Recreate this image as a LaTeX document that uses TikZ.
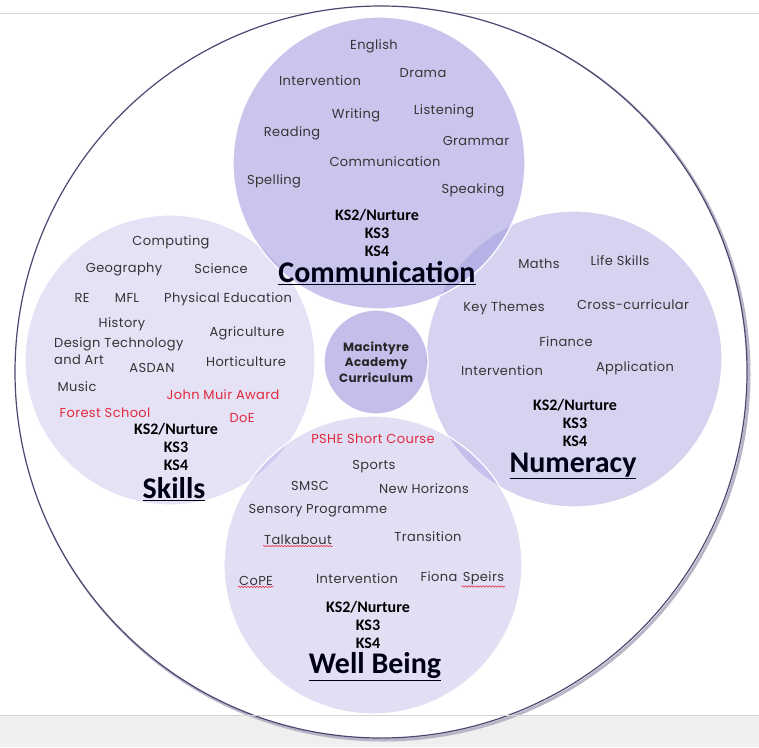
\documentclass[tikz,border=0pt]{standalone}
\usepackage{fontspec}
\setmainfont[LetterSpace=3]{Poppins}
\newfontfamily\ksfont{Carlito}
\usepackage{tikz}
\usetikzlibrary{positioning, decorations.pathmorphing}

\definecolor{ink}{HTML}{353535}
\definecolor{redtxt}{HTML}{E3283C}
\definecolor{lav}{HTML}{9F97DE}
\definecolor{rim}{HTML}{4A4870}
\definecolor{band}{HTML}{EFEFEF}
\definecolor{bandline}{HTML}{D4D4D4}

\tikzset{
    area/.style={circle, inner sep=0pt, fill=lav, draw=white, line width=1.2pt},
    item/.style={font=\fontsize{13}{15}\selectfont, text=ink, inner sep=1pt},
    reditem/.style={item, text=redtxt},
    stages/.style={font=\ksfont\bfseries\fontsize{16}{18}\selectfont, align=center, text=black, inner sep=0pt},
    heading/.style={font=\ksfont\bfseries\fontsize{30}{32}\selectfont, text=black!92!blue, inner sep=0pt},
    squiggle/.style={draw=redtxt, line width=0.5pt, decorate, decoration={snake, amplitude=0.7pt, segment length=3pt}}
}

\begin{document}
\begin{tikzpicture}[x=1pt, y=-1pt]
\useasboundingbox (0,0) rectangle (759,747);

% page furniture
\fill[band] (0,715) rectangle (759,747);
\draw[bandline, line width=1pt] (0,13) -- (759,13);

% outer ring
\draw[rim!40, line width=3pt] (383,374) circle[radius=366];
\filldraw[fill=white, draw=rim, line width=1.2pt] (381,372) circle[radius=366];
\draw[bandline, line width=1pt] (0,715) -- (759,715);

% the four areas and the centre
\node[area, fill opacity=0.27, minimum size=290pt] (skills) at (170,360) {};
\node[area, fill opacity=0.42, minimum size=296pt] (num) at (574,359) {};
\node[area, fill opacity=0.30, minimum size=298pt] (well) at (373,565) {};
\node[area, fill opacity=0.55, minimum size=292pt] (comm) at (379,163) {};
\node[area, fill opacity=0.62, minimum size=104pt] (core) at (376,362) {};
\node[font=\bfseries\fontsize{12}{15.5}\selectfont, align=center, text=black!85] (coreT) at (core) {Macintyre\\Academy\\Curriculum};

% Communication
\node[item] (english) at (374,46) {English};
\node[item] (drama) at (423,73) {Drama};
\node[item] (interC) at (320,81) {Intervention};
\node[item] (listen) at (444,111) {Listening};
\node[item] (writing) at (356,115) {Writing};
\node[item] (reading) at (292,133) {Reading};
\node[item] (grammar) at (476,141) {Grammar};
\node[item] (commI) at (385,162) {Communication};
\node[item] (spelling) at (274,181) {Spelling};
\node[item] (speaking) at (473,190) {Speaking};
\node[stages] (ksC) at (377,233) {KS2/Nurture\\KS3\\KS4};
\node[heading] (commT) at (377,273) {\underline{Communication}};

% Skills
\node[item] (computing) at (171,242) {Computing};
\node[item] (geo) at (124,269) {Geography};
\node[item] (science) at (221,269) {Science};
\node[item] (re) at (82,298) {RE};
\node[item] (mfl) at (127,298) {MFL};
\node[item] (pe) at (228,299) {Physical Education};
\node[item] (history) at (122,324) {History};
\node[item, font=\fontsize{13}{17}\selectfont, align=left, anchor=north west] (dt) at (53,336) {Design Technology\\and Art};
\node[item] (asdan) at (152,368) {ASDAN};
\node[item] (agri) at (247,333) {Agriculture};
\node[item] (horti) at (246,362) {Horticulture};
\node[item] (music) at (77,387) {Music};
\node[reditem] (muir) at (223,395) {John Muir Award};
\node[reditem] (forest) at (105,413) {Forest School};
\node[reditem] (doe) at (242,418) {DoE};
\node[stages] (ksS) at (176,447) {KS2/Nurture\\KS3\\KS4};
\node[heading] (skillsT) at (174,489) {\underline{Skills}};

% Numeracy
\node[item] (maths) at (539,264) {Maths};
\node[item] (life) at (620,261) {Life Skills};
\node[item] (key) at (504,308) {Key Themes};
\node[item] (cross) at (633,305) {Cross-curricular};
\node[item] (finance) at (566,342) {Finance};
\node[item] (interN) at (502,371) {Intervention};
\node[item] (appl) at (635,368) {Application};
\node[stages] (ksN) at (575,423) {KS2/Nurture\\KS3\\KS4};
\node[heading] (numT) at (573,466) {\underline{Numeracy}};

% Well Being
\node[reditem] (pshe) at (373,439) {PSHE Short Course};
\node[item] (sports) at (374,467) {Sports};
\node[item] (smsc) at (310,486) {SMSC};
\node[item] (horizons) at (424,489) {New Horizons};
\node[item] (sensory) at (318,511) {Sensory Programme};
\node[item] (talk) at (298,540) {Talkabout};
\node[item] (transition) at (428,537) {Transition};
\node[item] (cope) at (256,581) {CoPE};
\node[item] (interW) at (357,579) {Intervention};
\node[item] (fiona) at (439,577) {Fiona};
\node[item, anchor=base west] (speirs) at ([xshift=3pt]fiona.base east) {Speirs};
\draw[squiggle] (talk.south west) -- (talk.south east);
\draw[squiggle] (cope.south west) -- (cope.south east);
\draw[squiggle] (speirs.south west) -- (speirs.south east);
\node[stages] (ksW) at (368,625) {KS2/Nurture\\KS3\\KS4};
\node[heading] (wellT) at (375,667) {\underline{Well Being}};
\end{tikzpicture}
\end{document}
